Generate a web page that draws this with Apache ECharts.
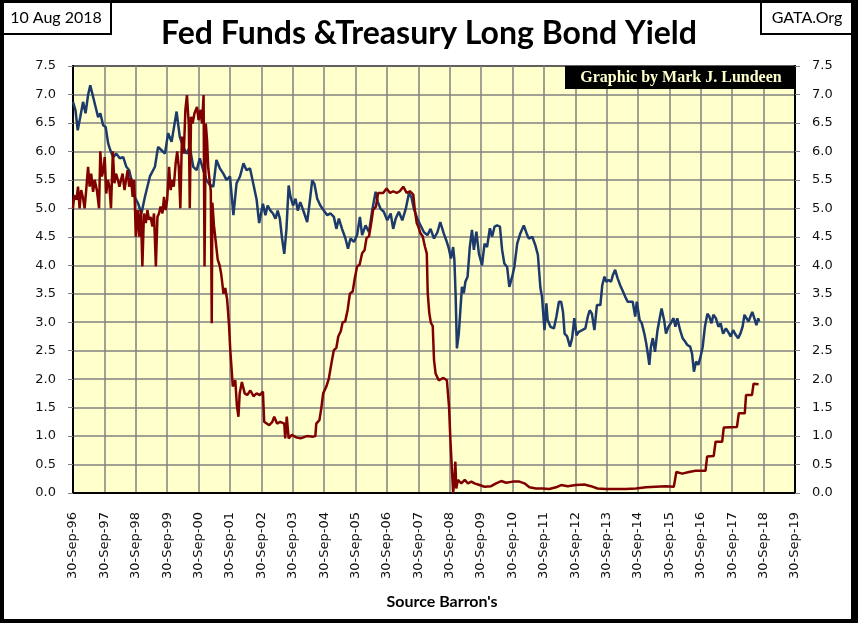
<!DOCTYPE html>
<html lang="en">
<head>
    <meta charset="UTF-8">
    <title>Fed Funds & Treasury Long Bond Yield</title>
    <script src="https://cdn.jsdelivr.net/npm/echarts@6/dist/echarts.min.js"></script>
    <style>
        body { margin: 0; background: #fff; }
        #chart { width: 858px; height: 623px; }
    </style>
</head>
<body>
<div id="chart"></div>
<script>
    // dates as decimal years
    const bondYears = [
        1996.75, 1996.83, 1996.90, 1996.98, 1997.07, 1997.15, 1997.23, 1997.30, 1997.39, 1997.47,
        1997.55, 1997.62, 1997.71, 1997.79, 1997.87, 1997.94, 1998.03, 1998.13, 1998.24, 1998.35,
        1998.45, 1998.54, 1998.61, 1998.72, 1998.82, 1998.93, 1999.04, 1999.20, 1999.36, 1999.46,
        1999.57, 1999.68, 1999.78, 1999.89, 1999.96, 2000.05, 2000.15, 2000.26, 2000.37, 2000.47,
        2000.58, 2000.69, 2000.79, 2000.90, 2001.00, 2001.11, 2001.22, 2001.32, 2001.43, 2001.54,
        2001.64, 2001.75, 2001.86, 2001.96, 2002.07, 2002.18, 2002.28, 2002.39, 2002.49, 2002.60,
        2002.68, 2002.80, 2002.88, 2002.95, 2003.04, 2003.12, 2003.20, 2003.27, 2003.34, 2003.41,
        2003.48, 2003.55, 2003.62, 2003.68, 2003.76, 2003.84, 2003.91, 2003.99, 2004.10, 2004.21,
        2004.29, 2004.37, 2004.44, 2004.53, 2004.63, 2004.74, 2004.85, 2004.95, 2005.06, 2005.14,
        2005.22, 2005.32, 2005.43, 2005.51, 2005.59, 2005.70, 2005.80, 2005.89, 2005.96, 2006.07,
        2006.18, 2006.28, 2006.39, 2006.46, 2006.55, 2006.65, 2006.76, 2006.87, 2006.95, 2007.03,
        2007.13, 2007.24, 2007.35, 2007.45, 2007.53, 2007.61, 2007.72, 2007.82, 2007.93, 2008.04,
        2008.14, 2008.25, 2008.36, 2008.45, 2008.56, 2008.64, 2008.72, 2008.79, 2008.86, 2008.90,
        2008.94, 2008.98, 2009.04, 2009.09, 2009.14, 2009.20, 2009.25, 2009.32, 2009.39, 2009.46,
        2009.52, 2009.60, 2009.68, 2009.78, 2009.86, 2009.94, 2010.03, 2010.10, 2010.18, 2010.26,
        2010.35, 2010.42, 2010.49, 2010.58, 2010.65, 2010.74, 2010.81, 2010.90, 2011.00, 2011.11,
        2011.20, 2011.27, 2011.38, 2011.48, 2011.56, 2011.64, 2011.69, 2011.77, 2011.83, 2011.87,
        2011.96, 2012.07, 2012.15, 2012.23, 2012.30, 2012.36, 2012.41, 2012.49, 2012.58, 2012.65,
        2012.72, 2012.79, 2012.86, 2012.97, 2013.07, 2013.15, 2013.21, 2013.28, 2013.36, 2013.44,
        2013.55, 2013.61, 2013.68, 2013.74, 2013.81, 2013.89, 2013.95, 2014.02, 2014.10, 2014.18,
        2014.27, 2014.34, 2014.42, 2014.50, 2014.58, 2014.66, 2014.71, 2014.80, 2014.87, 2014.95,
        2015.01, 2015.06, 2015.11, 2015.16, 2015.22, 2015.29, 2015.37, 2015.45, 2015.50, 2015.58,
        2015.64, 2015.72, 2015.79, 2015.88, 2015.94, 2016.00, 2016.09, 2016.17, 2016.25, 2016.32,
        2016.41, 2016.47, 2016.53, 2016.60, 2016.67, 2016.74, 2016.81, 2016.88, 2016.96, 2017.02,
        2017.09, 2017.15, 2017.23, 2017.31, 2017.38, 2017.46, 2017.55, 2017.62, 2017.70, 2017.78,
        2017.87, 2017.94, 2018.01, 2018.08, 2018.14, 2018.20, 2018.27, 2018.33, 2018.39, 2018.47,
        2018.52, 2018.58, 2018.61
    ];
    const bondYield = [
        6.87, 6.72, 6.37, 6.60, 6.87, 6.67, 6.99, 7.16, 6.96, 6.78,
        6.60, 6.67, 6.46, 6.43, 6.14, 6.02, 5.90, 5.96, 5.88, 5.90,
        5.73, 5.67, 5.50, 5.20, 5.09, 4.91, 5.20, 5.56, 5.73, 6.08,
        6.02, 5.96, 6.32, 6.17, 6.40, 6.70, 6.26, 6.08, 5.96, 6.08,
        5.73, 5.67, 5.88, 5.67, 5.50, 5.41, 5.38, 5.85, 5.70, 5.61,
        5.50, 5.56, 4.88, 5.44, 5.56, 5.79, 5.67, 5.70, 5.44, 5.15,
        4.74, 5.08, 4.88, 5.05, 4.96, 4.91, 4.82, 4.96, 4.82, 4.47,
        4.20, 4.64, 5.40, 5.20, 5.05, 5.17, 4.96, 5.11, 4.94, 4.76,
        5.11, 5.49, 5.43, 5.17, 5.05, 4.96, 4.88, 4.91, 4.85, 4.64,
        4.82, 4.64, 4.47, 4.29, 4.47, 4.41, 4.53, 4.85, 4.53, 4.70,
        4.58, 4.96, 5.29, 5.11, 4.99, 4.94, 4.79, 4.91, 4.64, 4.82,
        4.94, 4.79, 4.99, 5.26, 5.20, 4.99, 4.82, 4.70, 4.58, 4.53,
        4.64, 4.47, 4.58, 4.76, 4.56, 4.44, 4.30, 4.12, 4.32, 4.09,
        3.45, 2.54, 2.80, 3.21, 3.62, 3.51, 3.71, 3.80, 4.32, 4.62,
        4.27, 4.59, 4.21, 4.00, 4.38, 4.32, 4.65, 4.50, 4.68, 4.70,
        4.68, 4.27, 4.03, 3.97, 3.62, 3.80, 3.97, 4.38, 4.56, 4.70,
        4.56, 4.47, 4.50, 4.35, 4.18, 3.60, 3.45, 2.86, 3.33, 3.04,
        2.92, 2.89, 3.10, 3.36, 3.36, 3.18, 2.80, 2.75, 2.57, 2.72,
        3.07, 2.77, 2.83, 2.86, 2.89, 3.10, 3.21, 3.15, 2.86, 3.30,
        3.30, 3.65, 3.80, 3.71, 3.74, 3.71, 3.83, 3.92, 3.77, 3.65,
        3.54, 3.45, 3.36, 3.36, 3.36, 3.10, 3.36, 3.04, 2.98, 2.80,
        2.63, 2.45, 2.25, 2.57, 2.72, 2.48, 2.86, 3.10, 3.24, 3.04,
        2.80, 2.92, 2.98, 3.07, 2.92, 3.07, 2.86, 2.72, 2.66, 2.60,
        2.57, 2.45, 2.13, 2.31, 2.25, 2.39, 2.57, 2.92, 3.15, 3.10,
        2.98, 3.13, 3.07, 2.92, 2.98, 2.80, 2.89, 2.83, 2.75, 2.86,
        2.77, 2.72, 2.80, 2.92, 3.13, 3.10, 3.01, 3.10, 3.18, 3.04,
        2.95, 3.07, 3.01
    ];

    const fedYears = [
        1996.75, 1996.79, 1996.86, 1996.91, 1996.96, 1997.01, 1997.07, 1997.12, 1997.17, 1997.23,
        1997.28, 1997.33, 1997.39, 1997.44, 1997.51, 1997.58, 1997.62, 1997.67, 1997.72, 1997.76,
        1997.81, 1997.86, 1997.91, 1997.96, 1998.02, 1998.07, 1998.12, 1998.18, 1998.23, 1998.28,
        1998.33, 1998.39, 1998.44, 1998.49, 1998.54, 1998.60, 1998.65, 1998.70, 1998.75, 1998.81,
        1998.86, 1998.91, 1998.96, 1999.01, 1999.07, 1999.12, 1999.17, 1999.22, 1999.28, 1999.33,
        1999.39, 1999.44, 1999.49, 1999.54, 1999.60, 1999.65, 1999.70, 1999.75, 1999.81, 1999.86,
        1999.91, 1999.96, 2000.02, 2000.07, 2000.12, 2000.17, 2000.22, 2000.28, 2000.33, 2000.38,
        2000.44, 2000.47, 2000.51, 2000.56, 2000.62, 2000.70, 2000.75, 2000.81, 2000.86, 2000.91,
        2000.94, 2000.98, 2001.02, 2001.06, 2001.10, 2001.14, 2001.17, 2001.19, 2001.24, 2001.30,
        2001.36, 2001.42, 2001.47, 2001.52, 2001.54, 2001.60, 2001.66, 2001.72, 2001.76, 2001.80,
        2001.84, 2001.92, 2001.97, 2002.02, 2002.06, 2002.13, 2002.22, 2002.30, 2002.40, 2002.50,
        2002.60, 2002.70, 2002.80, 2002.84, 2002.90, 2003.00, 2003.10, 2003.16, 2003.25, 2003.35,
        2003.48, 2003.51, 2003.56, 2003.62, 2003.72, 2003.85, 2004.00, 2004.20, 2004.40, 2004.47,
        2004.50, 2004.60, 2004.66, 2004.72, 2004.82, 2004.90, 2004.98, 2005.06, 2005.14, 2005.20,
        2005.28, 2005.34, 2005.42, 2005.50, 2005.57, 2005.66, 2005.72, 2005.80, 2005.88, 2005.96,
        2006.04, 2006.10, 2006.18, 2006.25, 2006.31, 2006.40, 2006.47, 2006.53, 2006.63, 2006.74,
        2006.85, 2006.95, 2007.06, 2007.16, 2007.27, 2007.38, 2007.48, 2007.59, 2007.64, 2007.70,
        2007.75, 2007.82, 2007.89, 2007.96, 2008.02, 2008.05, 2008.10, 2008.15, 2008.21, 2008.25,
        2008.30, 2008.40, 2008.55, 2008.66, 2008.70, 2008.73, 2008.77, 2008.81, 2008.86, 2008.90,
        2008.93, 2008.96, 2009.01, 2009.12, 2009.23, 2009.33, 2009.44, 2009.54, 2009.70, 2009.86,
        2010.07, 2010.23, 2010.39, 2010.55, 2010.76, 2010.97, 2011.13, 2011.29, 2011.50, 2011.71,
        2011.92, 2012.14, 2012.30, 2012.51, 2012.77, 2013.04, 2013.25, 2013.46, 2013.72, 2014.04,
        2014.36, 2014.68, 2015.00, 2015.31, 2015.63, 2015.89, 2015.97, 2016.16, 2016.37, 2016.58,
        2016.90, 2016.95, 2017.16, 2017.22, 2017.43, 2017.48, 2017.90, 2017.96, 2018.15, 2018.19,
        2018.38, 2018.43, 2018.59
    ];
    const fedRate = [
        5.00, 5.23, 5.15, 5.38, 5.00, 5.32, 5.18, 5.00, 5.32, 5.73,
        5.38, 5.61, 5.29, 5.50, 5.32, 5.00, 6.00, 5.56, 5.67, 5.90,
        5.26, 5.50, 5.38, 5.00, 6.00, 5.44, 5.61, 5.50, 5.38, 5.50,
        5.61, 5.32, 5.50, 5.67, 5.38, 5.53, 5.20, 5.50, 4.50, 4.97,
        4.50, 4.97, 3.98, 4.91, 4.74, 4.97, 4.80, 4.85, 4.68, 4.91,
        3.98, 4.85, 4.91, 5.03, 4.91, 5.20, 4.97, 5.15, 5.73, 5.32,
        5.50, 5.38, 5.79, 6.00, 5.73, 5.00, 6.26, 5.96, 6.73, 6.99,
        6.46, 5.00, 6.61, 6.49, 6.67, 6.78, 6.55, 6.73, 6.49, 6.99,
        3.98, 6.49, 6.20, 5.70, 5.50, 5.30, 2.98, 5.10, 4.70, 4.40,
        4.10, 4.00, 3.85, 3.62, 3.50, 3.60, 3.40, 2.95, 2.51, 2.20,
        1.87, 1.98, 1.54, 1.34, 1.75, 1.95, 1.75, 1.72, 1.80, 1.70,
        1.75, 1.72, 1.78, 1.25, 1.22, 1.19, 1.25, 1.34, 1.22, 1.25,
        1.22, 0.96, 1.34, 0.96, 1.02, 0.98, 0.96, 1.00, 0.99, 1.00,
        1.22, 1.28, 1.49, 1.75, 1.87, 2.01, 2.27, 2.51, 2.55, 2.75,
        2.84, 3.00, 3.01, 3.22, 3.50, 3.54, 3.75, 3.98, 4.01, 4.21,
        4.27, 4.48, 4.51, 4.74, 4.97, 5.03, 5.27, 5.30, 5.27, 5.35,
        5.27, 5.30, 5.27, 5.30, 5.38, 5.27, 5.30, 5.24, 4.97, 4.74,
        4.68, 4.56, 4.51, 4.33, 4.21, 3.51, 3.16, 2.99, 2.93, 2.34,
        2.10, 1.98, 2.02, 1.98, 2.00, 1.51, 0.96, 0.93, 0.00, 0.23,
        0.55, 0.08, 0.23, 0.17, 0.23, 0.17, 0.20, 0.17, 0.14, 0.11,
        0.12, 0.17, 0.21, 0.18, 0.20, 0.20, 0.17, 0.10, 0.08, 0.08,
        0.07, 0.10, 0.14, 0.12, 0.14, 0.15, 0.12, 0.08, 0.07, 0.07,
        0.07, 0.08, 0.10, 0.11, 0.12, 0.11, 0.37, 0.34, 0.37, 0.39,
        0.39, 0.64, 0.65, 0.90, 0.90, 1.15, 1.16, 1.40, 1.40, 1.72,
        1.72, 1.92, 1.91
    ];

    // x axis counts years from 30-Sep-96
    const startYear = 1996.75;
    const yearCount = 23;

    function pairs(years, values) {
        return years.map(function (y, i) { return [y - startYear, values[i]]; });
    }

    function tickLabel(v) {
        let yy = (96 + Math.round(v)) % 100;
        return '30-Sep-' + (yy < 10 ? '0' + yy : yy);
    }

    let myChart = echarts.init(document.getElementById('chart'));

    let yAxisCommon = {
        type: 'value',
        min: 0,
        max: 7.5,
        interval: 0.5,
        axisLine: {show: true, lineStyle: {color: '#000', width: 2}},
        axisTick: {show: true, length: 5, lineStyle: {color: '#808080'}},
        axisLabel: {
            color: '#111',
            fontFamily: 'DejaVu Sans',
            fontSize: 13,
            margin: 17,
            formatter: function (v) { return v.toFixed(1); }
        }
    };

    let option = {
        backgroundColor: '#fff',
        animation: false,
        title: {
            text: 'Fed Funds &Treasury Long Bond Yield',
            left: 'center',
            top: 13,
            textStyle: {
                fontFamily: 'Lato',
                fontWeight: 'bold',
                fontSize: 32,
                color: '#000'
            }
        },
        grid: {
            left: 73,
            right: 63,
            top: 66,
            bottom: 130,
            show: true,
            backgroundColor: '#FFFFCC',
            borderColor: '#000',
            borderWidth: 2
        },
        xAxis: {
            type: 'value',
            min: 0,
            max: yearCount,
            interval: 1,
            axisLine: {show: true, lineStyle: {color: '#000', width: 2}},
            axisTick: {show: false},
            axisLabel: {
                rotate: 90,
                color: '#111',
                fontFamily: 'DejaVu Sans',
                fontSize: 13,
                margin: 19,
                formatter: tickLabel
            },
            splitLine: {show: true, lineStyle: {color: '#808080', width: 1.5}}
        },
        yAxis: [
            Object.assign({}, yAxisCommon, {
                position: 'left',
                splitLine: {show: true, lineStyle: {color: '#808080', width: 1.5}}
            }),
            Object.assign({}, yAxisCommon, {
                position: 'right',
                splitLine: {show: false}
            })
        ],
        series: [
            {
                name: 'Treasury Long Bond Yield',
                type: 'line',
                data: pairs(bondYears, bondYield),
                showSymbol: false,
                lineStyle: {color: '#1C3A6B', width: 2.5}
            },
            {
                name: 'Fed Funds',
                type: 'line',
                data: pairs(fedYears, fedRate),
                showSymbol: false,
                lineStyle: {color: '#800000', width: 2.5}
            }
        ],
        graphic: [
            // date box, top left
            {
                type: 'rect',
                shape: {x: 1, y: 1, width: 110, height: 33},
                style: {fill: '#fff', stroke: '#000', lineWidth: 2}
            },
            {
                type: 'text',
                x: 56, y: 18,
                style: {
                    text: '10 Aug 2018', fill: '#000',
                    font: '16px Lato',
                    align: 'center', verticalAlign: 'middle'
                }
            },
            // source box, top right
            {
                type: 'rect',
                shape: {x: 761, y: 1, width: 96, height: 33},
                style: {fill: '#fff', stroke: '#000', lineWidth: 2}
            },
            {
                type: 'text',
                x: 807, y: 18,
                style: {
                    text: 'GATA.Org', fill: '#000',
                    font: '16px Lato',
                    align: 'center', verticalAlign: 'middle'
                }
            },
            // credit box inside the plot
            {
                type: 'rect',
                shape: {x: 565, y: 66, width: 230, height: 23},
                style: {fill: '#000'},
                z: 10
            },
            {
                type: 'text',
                x: 681, y: 78,
                z: 11,
                style: {
                    text: 'Graphic by Mark J. Lundeen', fill: '#FFFFCC',
                    font: 'bold 16px "Liberation Serif"',
                    align: 'center', verticalAlign: 'middle'
                }
            },
            {
                type: 'text',
                x: 442, y: 602,
                style: {
                    text: "Source Barron's", fill: '#000',
                    font: 'bold 16px Lato',
                    align: 'center', verticalAlign: 'middle'
                }
            },
            // outer frame
            {type: 'rect', shape: {x: 0, y: 0, width: 858, height: 3}, style: {fill: '#000'}, z: 20},
            {type: 'rect', shape: {x: 0, y: 0, width: 4, height: 623}, style: {fill: '#000'}, z: 20},
            {type: 'rect', shape: {x: 851, y: 0, width: 7, height: 623}, style: {fill: '#000'}, z: 20},
            {type: 'rect', shape: {x: 0, y: 619, width: 858, height: 4}, style: {fill: '#000'}, z: 20}
        ]
    };

    myChart.setOption(option);
</script>
</body>
</html>
